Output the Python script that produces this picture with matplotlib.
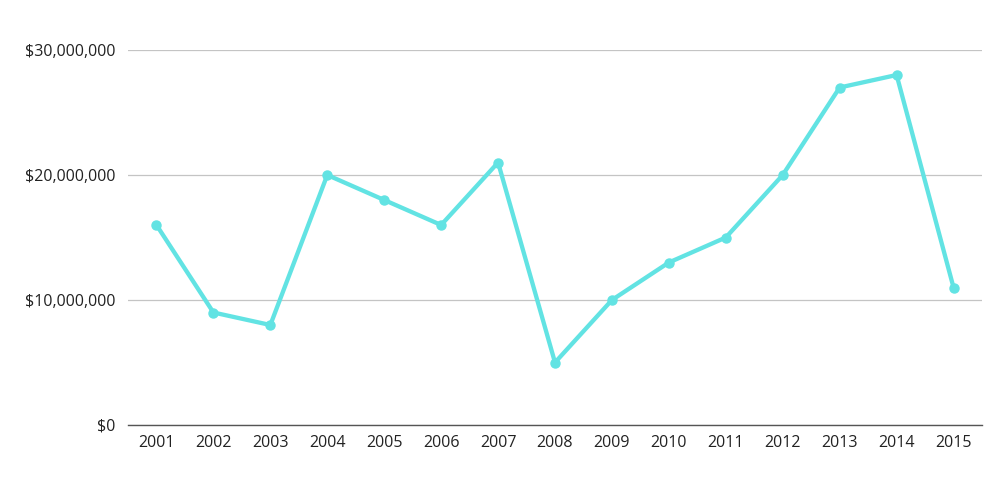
import matplotlib
matplotlib.use("Agg")
import matplotlib.pyplot as plt
from matplotlib.ticker import FuncFormatter

plt.rcParams.update({
    "font.family": ["Open Sans", "DejaVu Sans"],
    "font.size": 11.5,
})

years = [2001, 2002, 2003, 2004, 2005, 2006, 2007, 2008,
         2009, 2010, 2011, 2012, 2013, 2014, 2015]
values = [16e6, 9e6, 8e6, 20e6, 18e6, 16e6, 21e6, 5e6,
          10e6, 13e6, 15e6, 20e6, 27e6, 28e6, 11e6]
y_ticks = [0, 10e6, 20e6, 30e6]

LINE = "#62e3e3"

fig = plt.figure(figsize=(10, 5), dpi=100)
ax = fig.add_axes([0.128, 0.15, 0.854, 0.75])

ax.plot(years, values, color=LINE, lw=3.1, marker="o", markersize=6.5,
        solid_capstyle="round", zorder=3)

ax.set_xlim(2000.5, 2015.5)
ax.set_ylim(0, 30e6)
ax.set_xticks(years)
ax.set_yticks(y_ticks)
ax.yaxis.set_major_formatter(FuncFormatter(lambda v, _: f"${v:,.0f}"))

ax.grid(axis="y", color="#c4c4c4", lw=0.9)
ax.set_axisbelow(True)
for s in ["top", "right", "left"]:
    ax.spines[s].set_visible(False)
ax.spines["bottom"].set_color("#555555")
ax.spines["bottom"].set_linewidth(1)
ax.tick_params(axis="both", length=0, colors="#222222")
ax.tick_params(axis="y", pad=9)
ax.tick_params(axis="x", pad=7)

fig.savefig("out.png", dpi=100)
